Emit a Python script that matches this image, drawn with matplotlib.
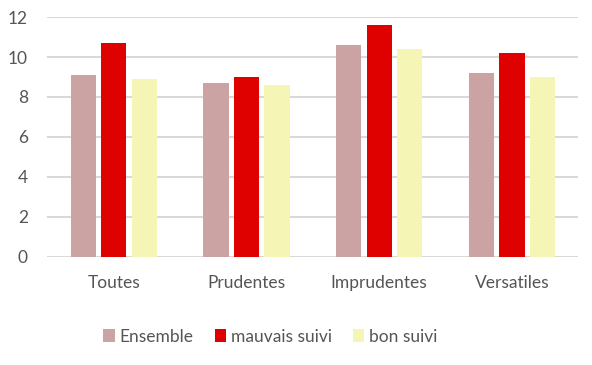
import matplotlib
matplotlib.use("Agg")
import matplotlib.pyplot as plt
import numpy as np

# data
categories = ["Toutes", "Prudentes", "Imprudentes", "Versatiles"]
ensemble = [9.1, 8.7, 10.6, 9.2]
mauvais_suivi = [10.7, 9.0, 11.6, 10.2]
bon_suivi = [8.9, 8.6, 10.4, 9.0]
series_names = ["Ensemble", "mauvais suivi", "bon suivi"]
colors = ["#cba3a2", "#df0000", "#f5f6b5"]

plt.rcParams['font.family'] = ['Lato', 'DejaVu Sans']

fig = plt.figure(figsize=(5.92, 3.65), dpi=100)
ax = fig.add_axes([0.080, 0.297, 0.897, 0.656])

x = np.arange(len(categories))
width = 0.19
step = 0.23
for i, (vals, name) in enumerate(zip([ensemble, mauvais_suivi, bon_suivi], series_names)):
    ax.bar(x + (i - 1) * step, vals, width, color=colors[i], label=name, zorder=3)

ax.set_xlim(-0.5, len(categories) - 0.5)
ax.set_ylim(0, 12)
ax.set_yticks(range(0, 13, 2))
ax.set_xticks(x)
ax.set_xticklabels(categories)

ax.yaxis.grid(True, color="#d9d9d9", linewidth=1.5, zorder=0)
for s in ax.spines.values():
    s.set_visible(False)
ax.tick_params(axis="both", length=0, labelsize=12.5, colors="#555555")
ax.tick_params(axis="y", pad=14)
ax.tick_params(axis="x", pad=13)

fig.legend(loc="center", bbox_to_anchor=(0.457, 0.077), ncol=3, frameon=False,
           fontsize=12.5, handlelength=0.65, handleheight=0.75, handletextpad=0.3,
           columnspacing=1.2, labelcolor="#555555")

fig.savefig("out.png", dpi=100)
